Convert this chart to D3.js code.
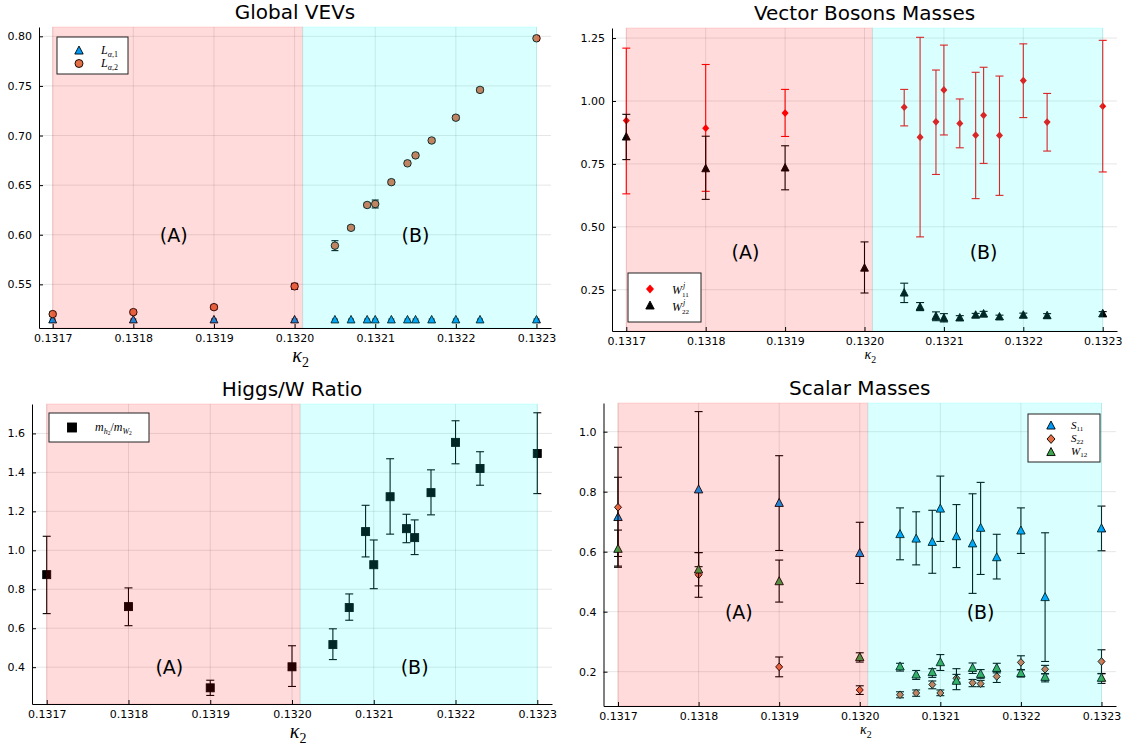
<!DOCTYPE html>
<html>
<head>
<meta charset="utf-8">
<script src="https://cdn.jsdelivr.net/npm/d3@7"></script>
<style>
  body { margin: 0; background: #fff; }
  svg { display: block; }
</style>
</head>
<body>
<svg id="chart" width="1134" height="747"></svg>
<script>
// kappa_2 values used by every panel
const kappa = [0.1317, 0.1318, 0.1319, 0.1320, 0.13205, 0.13207, 0.13209, 0.1321,
               0.13212, 0.13214, 0.13215, 0.13217, 0.1322, 0.13223, 0.1323];
const xTicks = [0.1317, 0.1318, 0.1319, 0.1320, 0.1321, 0.1322, 0.1323];
const phaseStart = 0.1317, phaseSplit = 0.13201, phaseEnd = 0.1323;

// Global VEVs
const La1    = [0.514, 0.514, 0.514, 0.514, 0.514, 0.514, 0.514, 0.514, 0.514, 0.514, 0.514, 0.514, 0.514, 0.514, 0.514];
const La1Err = [0.001, 0.001, 0.001, 0.001, 0.001, 0.001, 0.001, 0.001, 0.001, 0.001, 0.001, 0.001, 0.001, 0.001, 0.001];
const La2    = [0.520, 0.522, 0.527, 0.548, 0.589, 0.607, 0.630, 0.631, 0.653, 0.672, 0.680, 0.695, 0.718, 0.746, 0.798];
const La2Err = [0.002, 0.002, 0.002, 0.003, 0.005, 0.002, 0.002, 0.004, 0.002, 0.002, 0.002, 0.002, 0.002, 0.002, 0.002];

// Vector boson masses
const W11   = [0.922, 0.892, 0.952, null, 0.975, 0.856, 0.917, 1.044, 0.911, 0.864, 0.943, 0.863, 1.081, 0.916, 0.979];
const W11Lo = [0.631, 0.641, 0.859, null, 0.901, 0.460, 0.708, 0.865, 0.814, 0.612, 0.752, 0.625, 0.934, 0.801, 0.718];
const W11Hi = [1.210, 1.145, 1.046, null, 1.046, 1.253, 1.123, 1.222, 1.008, 1.114, 1.134, 1.099, 1.227, 1.030, 1.241];
const W22   = [0.856, 0.730, 0.733, 0.335, 0.236, 0.180, 0.143, 0.136, 0.137, 0.148, 0.153, 0.141, 0.148, 0.146, 0.154];
const W22Lo = [0.767, 0.609, 0.647, 0.237, 0.199, 0.167, 0.127, 0.122, 0.128, 0.140, 0.142, 0.132, 0.139, 0.137, 0.143];
const W22Hi = [0.947, 0.860, 0.822, 0.440, 0.276, 0.199, 0.162, 0.155, 0.147, 0.156, 0.164, 0.149, 0.157, 0.155, 0.163];

// Higgs/W ratio
const ratio   = [0.875, 0.711, 0.294, 0.402, 0.516, 0.706, 1.096, 0.926, 1.275, 1.111, 1.065, 1.296, 1.554, 1.420, 1.497];
const ratioLo = [0.675, 0.613, 0.255, 0.301, 0.439, 0.641, 0.966, 0.803, 1.083, 1.039, 0.978, 1.182, 1.444, 1.334, 1.291];
const ratioHi = [1.072, 0.807, 0.333, 0.510, 0.597, 0.776, 1.231, 1.053, 1.470, 1.185, 1.156, 1.413, 1.665, 1.506, 1.706];

// Scalar masses
const S11   = [0.714, 0.806, 0.761, 0.594, 0.657, 0.642, 0.631, 0.742, 0.650, 0.626, 0.678, 0.580, 0.669, 0.447, 0.676];
const S11Lo = [0.584, 0.550, 0.604, 0.494, 0.573, 0.556, 0.528, 0.634, 0.547, 0.461, 0.524, 0.509, 0.594, 0.234, 0.603];
const S11Hi = [0.848, 1.067, 0.920, 0.698, 0.746, 0.733, 0.738, 0.852, 0.757, 0.793, 0.831, 0.658, 0.746, 0.663, 0.752];
const S22   = [0.748, 0.523, 0.216, 0.139, 0.123, 0.129, 0.157, 0.129, 0.178, 0.163, 0.160, 0.184, 0.231, 0.208, 0.234];
const S22Lo = [0.548, 0.448, 0.183, 0.124, 0.113, 0.118, 0.143, 0.120, 0.165, 0.150, 0.150, 0.164, 0.206, 0.193, 0.194];
const S22Hi = [0.948, 0.597, 0.249, 0.153, 0.133, 0.139, 0.169, 0.139, 0.191, 0.174, 0.171, 0.200, 0.253, 0.221, 0.273];
const W12   = [0.608, 0.539, 0.500, 0.247, 0.216, 0.189, 0.197, 0.230, 0.168, 0.211, 0.191, 0.211, 0.194, 0.181, 0.178];
const W12Lo = [0.552, 0.486, 0.432, 0.232, 0.202, 0.174, 0.181, 0.204, 0.140, 0.194, 0.178, 0.196, 0.182, 0.166, 0.161];
const W12Hi = [0.672, 0.597, 0.572, 0.263, 0.228, 0.204, 0.210, 0.257, 0.210, 0.229, 0.207, 0.228, 0.207, 0.193, 0.193];

const BLUE = "#009AFA", ORANGE = "#E36F47", GREEN = "#3EA44E";
const SANS = "DejaVu Sans", SERIF = "Liberation Serif";

const svg = d3.select("#chart");

// marker shapes, centered on (cx, cy)
function marker(g, shape, cx, cy, size, fill, stroke) {
  let el;
  const h = size / 2;
  if (shape === "circle") {
    el = g.append("circle").attr("cx", cx).attr("cy", cy).attr("r", h);
  } else if (shape === "square") {
    el = g.append("rect").attr("x", cx - h).attr("y", cy - h).attr("width", size).attr("height", size);
  } else if (shape === "diamond") {
    el = g.append("path").attr("d", `M${cx},${cy - h * 1.1}L${cx + h},${cy}L${cx},${cy + h * 1.1}L${cx - h},${cy}Z`);
  } else {
    el = g.append("path").attr("d", `M${cx},${cy - size * 0.62}L${cx + h * 1.05},${cy + size * 0.38}L${cx - h * 1.05},${cy + size * 0.38}Z`);
  }
  el.attr("fill", fill).attr("stroke", stroke).attr("stroke-width", stroke === "none" ? 0 : 0.9);
}

function drawPanel(p) {
  const g = svg.append("g");
  const x = d3.scaleLinear().domain(p.xDomain).range([p.left, p.right]);
  const y = d3.scaleLinear().domain(p.yDomain).range([p.bottom, p.top]);

  // grid
  g.append("g").selectAll("line").data(xTicks).join("line")
    .attr("x1", d => x(d)).attr("x2", d => x(d))
    .attr("y1", p.top).attr("y2", p.bottom)
    .attr("stroke", "#000").attr("stroke-opacity", 0.1);
  g.append("g").selectAll("line").data(p.yTicks).join("line")
    .attr("x1", p.left).attr("x2", p.right)
    .attr("y1", d => y(d)).attr("y2", d => y(d))
    .attr("stroke", "#000").attr("stroke-opacity", 0.1);

  // series: error bars first, then markers
  p.series.forEach(s => {
    const pts = kappa.map((k, i) => ({ k: k, v: s.values[i], lo: s.lo[i], hi: s.hi[i] }))
      .filter(d => d.v != null);
    const eb = g.append("g").attr("stroke", s.barColor).attr("stroke-width", 1.1);
    const cap = s.cap || 4;
    pts.forEach(d => {
      const cx = x(d.k);
      eb.append("line").attr("x1", cx).attr("x2", cx).attr("y1", y(d.lo)).attr("y2", y(d.hi));
      eb.append("line").attr("x1", cx - cap).attr("x2", cx + cap).attr("y1", y(d.lo)).attr("y2", y(d.lo));
      eb.append("line").attr("x1", cx - cap).attr("x2", cx + cap).attr("y1", y(d.hi)).attr("y2", y(d.hi));
    });
    const mk = g.append("g");
    pts.forEach(d => marker(mk, s.shape, x(d.k), y(d.v), s.size, s.color, s.stroke));
  });

  // phase shading, drawn over the points with alpha
  g.append("rect")
    .attr("x", x(phaseStart)).attr("width", x(phaseSplit) - x(phaseStart))
    .attr("y", p.top).attr("height", p.bottom - p.top)
    .attr("fill", "#ff0000").attr("fill-opacity", 0.14)
    .attr("stroke", "#ff0000").attr("stroke-opacity", 0.12);
  g.append("rect")
    .attr("x", x(phaseSplit)).attr("width", x(phaseEnd) - x(phaseSplit))
    .attr("y", p.top).attr("height", p.bottom - p.top)
    .attr("fill", "#00ffff").attr("fill-opacity", 0.15)
    .attr("stroke", "#00ffff").attr("stroke-opacity", 0.12);

  // axes
  const xAxis = g.append("g").attr("transform", `translate(0,${p.bottom})`)
    .call(d3.axisBottom(x).tickValues(xTicks).tickFormat(d3.format(".4f"))
      .tickSize(-4).tickSizeOuter(0).tickPadding(6));
  const yAxis = g.append("g").attr("transform", `translate(${p.left},0)`)
    .call(d3.axisLeft(y).tickValues(p.yTicks).tickFormat(d3.format(p.yFmt))
      .tickSize(-4).tickSizeOuter(0).tickPadding(7));
  [xAxis, yAxis].forEach(a => {
    a.selectAll("text").attr("font-family", SANS).attr("font-size", 11).attr("fill", "#000");
    a.select(".domain").attr("stroke", "#000");
    a.selectAll(".tick line").attr("stroke", "#000");
  });

  // region labels
  [["(A)", p.labelA], ["(B)", p.labelB]].forEach(([t, pos]) => {
    g.append("text").attr("x", x(pos[0])).attr("y", y(pos[1]))
      .attr("text-anchor", "middle").attr("dominant-baseline", "central")
      .attr("font-family", SANS).attr("font-size", 19).text(t);
  });

  // title
  g.append("text").attr("x", (p.left + p.right) / 2).attr("y", p.top - 8)
    .attr("text-anchor", "middle").attr("font-family", SANS).attr("font-size", 20)
    .text(p.title);

  // x label kappa_2
  const xl = g.append("text").attr("x", x(phaseSplit) - 2).attr("y", p.bottom + p.xLabelDy)
    .attr("text-anchor", "middle").attr("font-family", SERIF).attr("font-size", p.xLabelSize);
  xl.append("tspan").attr("font-style", "italic").text("κ");
  xl.append("tspan").attr("font-size", p.xLabelSize * 0.7).attr("dy", p.xLabelSize * 0.25).text("2");

  return g;
}

function legendBox(g, x0, y0, w, h) {
  g.append("rect").attr("x", x0).attr("y", y0).attr("width", w).attr("height", h)
    .attr("fill", "#fff").attr("stroke", "#222").attr("stroke-width", 1);
}

// ---- Panel 1: Global VEVs
const g1 = drawPanel({
  left: 39, right: 551, top: 27, bottom: 328,
  xDomain: [0.131683, 0.132318], yDomain: [0.506, 0.8094],
  yTicks: [0.55, 0.60, 0.65, 0.70, 0.75, 0.80], yFmt: ".2f",
  title: "Global VEVs", labelA: [0.13185, 0.60], labelB: [0.13215, 0.60],
  xLabelDy: 34, xLabelSize: 20,
  series: [
    { values: La1, lo: La1.map((v, i) => v - La1Err[i]), hi: La1.map((v, i) => v + La1Err[i]),
      shape: "triangle", size: 7.5, color: BLUE, stroke: "#000", barColor: "#000", cap: 3 },
    { values: La2, lo: La2.map((v, i) => v - La2Err[i]), hi: La2.map((v, i) => v + La2Err[i]),
      shape: "circle", size: 7.5, color: ORANGE, stroke: "#000", barColor: "#000", cap: 3.5 }
  ]
});
legendBox(g1, 57, 37, 71, 37);
marker(g1, "triangle", 79, 51, 8, BLUE, "#000");
marker(g1, "circle", 79, 63.5, 8, ORANGE, "#000");
[["1", 54], ["2", 67]].forEach(([n, yy]) => {
  const t = g1.append("text").attr("x", 101).attr("y", yy).attr("font-family", SERIF).attr("font-size", 12);
  t.append("tspan").attr("font-style", "italic").text("L");
  t.append("tspan").attr("font-size", 8).attr("dy", 2.5).attr("font-style", "italic").text("α");
  t.append("tspan").attr("font-size", 8).text("," + n);
});

// ---- Panel 2: Vector Bosons Masses
const g2 = drawPanel({
  left: 612, right: 1117, top: 28, bottom: 331,
  xDomain: [0.131682, 0.132318], yDomain: [0.086, 1.29],
  yTicks: [0.25, 0.50, 0.75, 1.00, 1.25], yFmt: ".2f",
  title: "Vector Bosons Masses", labelA: [0.13185, 0.40], labelB: [0.13215, 0.40],
  xLabelDy: 28, xLabelSize: 14,
  series: [
    { values: W11, lo: W11Lo, hi: W11Hi, shape: "diamond", size: 7, color: "#ff0000", stroke: "none", barColor: "#ff0000", cap: 4 },
    { values: W22, lo: W22Lo, hi: W22Hi, shape: "triangle", size: 7.5, color: "#000", stroke: "#000", barColor: "#000", cap: 4 }
  ]
});
legendBox(g2, 628, 273, 73, 49);
marker(g2, "diamond", 650, 289, 8, "#ff0000", "none");
marker(g2, "triangle", 650, 306, 8, "#000", "#000");
[["11", 294], ["22", 311]].forEach(([n, yy]) => {
  g2.append("text").attr("x", 672).attr("y", yy).attr("font-family", SERIF).attr("font-size", 12)
    .attr("font-style", "italic").text("W");
  g2.append("text").attr("x", 683).attr("y", yy - 6).attr("font-family", SERIF).attr("font-size", 8)
    .attr("font-style", "italic").text("j");
  g2.append("text").attr("x", 682).attr("y", yy + 3).attr("font-family", SERIF).attr("font-size", 7).text(n);
});

// ---- Panel 3: Higgs/W Ratio
const g3 = drawPanel({
  left: 32, right: 552, top: 404, bottom: 704,
  xDomain: [0.131682, 0.132318], yDomain: [0.211, 1.751],
  yTicks: [0.4, 0.6, 0.8, 1.0, 1.2, 1.4, 1.6], yFmt: ".1f",
  title: "Higgs/W Ratio", labelA: [0.13185, 0.40], labelB: [0.13215, 0.40],
  xLabelDy: 34, xLabelSize: 20,
  series: [
    { values: ratio, lo: ratioLo, hi: ratioHi, shape: "square", size: 8, color: "#000", stroke: "#000", barColor: "#000", cap: 4 }
  ]
});
legendBox(g3, 49, 413, 100, 29);
marker(g3, "square", 72, 427.5, 9, "#000", "#000");
{
  const t = g3.append("text").attr("x", 95).attr("y", 431).attr("font-family", SERIF).attr("font-size", 12);
  t.append("tspan").attr("font-style", "italic").text("m");
  t.append("tspan").attr("font-style", "italic").attr("font-size", 8).attr("dy", 2.5).text("h");
  t.append("tspan").attr("font-size", 5.5).attr("dy", 1.5).text("2");
  t.append("tspan").attr("dy", -4).text("/");
  t.append("tspan").attr("font-style", "italic").text("m");
  t.append("tspan").attr("font-style", "italic").attr("font-size", 8).attr("dy", 2.5).text("W");
  t.append("tspan").attr("font-size", 5.5).attr("dy", 1.5).text("2");
}

// ---- Panel 4: Scalar Masses
const g4 = drawPanel({
  left: 603.5, right: 1116, top: 403, bottom: 706,
  xDomain: [0.131682, 0.132318], yDomain: [0.0856, 1.0956],
  yTicks: [0.2, 0.4, 0.6, 0.8, 1.0], yFmt: ".1f",
  title: "Scalar Masses", labelA: [0.13185, 0.40], labelB: [0.13215, 0.40],
  xLabelDy: 28, xLabelSize: 14,
  series: [
    { values: S11, lo: S11Lo, hi: S11Hi, shape: "triangle", size: 8, color: BLUE, stroke: "#000", barColor: "#000", cap: 4 },
    { values: S22, lo: S22Lo, hi: S22Hi, shape: "diamond", size: 7, color: ORANGE, stroke: "#000", barColor: "#000", cap: 4 },
    { values: W12, lo: W12Lo, hi: W12Hi, shape: "triangle", size: 8, color: GREEN, stroke: "#000", barColor: "#000", cap: 4 }
  ]
});
legendBox(g4, 1028, 414, 72, 48);
marker(g4, "triangle", 1051, 426, 8, BLUE, "#000");
marker(g4, "diamond", 1051, 439, 8, ORANGE, "#000");
marker(g4, "triangle", 1051, 452.5, 8, GREEN, "#000");
[["S", "11", 429], ["S", "22", 442], ["W", "12", 455]].forEach(([s, n, yy]) => {
  const t = g4.append("text").attr("x", 1071).attr("y", yy).attr("font-family", SERIF).attr("font-size", 11);
  t.append("tspan").attr("font-style", "italic").text(s);
  t.append("tspan").attr("font-size", 7).attr("dy", 2).text(n);
});
</script>
</body>
</html>
